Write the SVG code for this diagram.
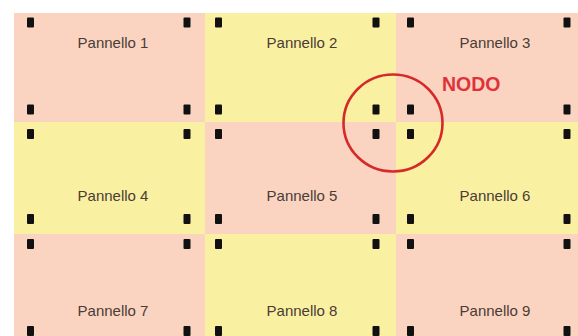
<svg xmlns="http://www.w3.org/2000/svg" width="578" height="336" viewBox="0 0 578 336">
<style>
.s{fill:#fad4c0}
.y{fill:#faf0a2}
.d{fill:#111}
.t{font-family:"Liberation Sans",Arial,sans-serif;font-size:15px;fill:#4a3c36;text-anchor:middle}
.n{font-family:"Liberation Sans",Arial,sans-serif;font-size:19.5px;font-weight:bold;fill:#e0323a}
</style>
<defs>
<rect id="dot" x="-3.5" y="-5" width="7" height="10" rx="1" class="d"/>
</defs>
<rect width="578" height="336" fill="#ffffff"/>
<g id="p1"><rect class="s" x="14" y="13" width="191" height="109"/>
<use href="#dot" x="30.5" y="22.5"/><use href="#dot" x="187" y="22.5"/><use href="#dot" x="30.5" y="109.5"/><use href="#dot" x="187" y="109.5"/>
<text class="t" x="113" y="48">Pannello 1</text></g>
<g id="p2"><rect class="y" x="205" y="13" width="191" height="109"/>
<use href="#dot" x="218.5" y="22.5"/><use href="#dot" x="376" y="22.5"/><use href="#dot" x="218.5" y="109.5"/><use href="#dot" x="376" y="109.5"/>
<text class="t" x="302" y="48">Pannello 2</text></g>
<g id="p3"><rect class="s" x="396" y="13" width="182" height="109"/>
<use href="#dot" x="410.5" y="22.5"/><use href="#dot" x="567" y="22.5"/><use href="#dot" x="410.5" y="109.5"/><use href="#dot" x="567" y="109.5"/>
<text class="t" x="495" y="48">Pannello 3</text></g>
<g id="p4"><rect class="y" x="14" y="122" width="191" height="112"/>
<use href="#dot" x="30.5" y="134"/><use href="#dot" x="187" y="134"/><use href="#dot" x="30.5" y="219"/><use href="#dot" x="187" y="219"/>
<text class="t" x="113" y="201">Pannello 4</text></g>
<g id="p5"><rect class="s" x="205" y="122" width="191" height="112"/>
<use href="#dot" x="218.5" y="134"/><use href="#dot" x="376" y="134"/><use href="#dot" x="218.5" y="219"/><use href="#dot" x="376" y="219"/>
<text class="t" x="302" y="201">Pannello 5</text></g>
<g id="p6"><rect class="y" x="396" y="122" width="182" height="112"/>
<use href="#dot" x="410.5" y="134"/><use href="#dot" x="567" y="134"/><use href="#dot" x="410.5" y="219"/><use href="#dot" x="567" y="219"/>
<text class="t" x="495" y="201">Pannello 6</text></g>
<g id="p7"><rect class="s" x="14" y="234" width="191" height="102"/>
<use href="#dot" x="30.5" y="244"/><use href="#dot" x="187" y="244"/><use href="#dot" x="30.5" y="331"/><use href="#dot" x="187" y="331"/>
<text class="t" x="113" y="316">Pannello 7</text></g>
<g id="p8"><rect class="y" x="205" y="234" width="191" height="102"/>
<use href="#dot" x="218.5" y="244"/><use href="#dot" x="376" y="244"/><use href="#dot" x="218.5" y="331"/><use href="#dot" x="376" y="331"/>
<text class="t" x="302" y="316">Pannello 8</text></g>
<g id="p9"><rect class="s" x="396" y="234" width="182" height="102"/>
<use href="#dot" x="410.5" y="244"/><use href="#dot" x="567" y="244"/><use href="#dot" x="410.5" y="331"/><use href="#dot" x="567" y="331"/>
<text class="t" x="495" y="316">Pannello 9</text></g>
<g id="nodo">
<ellipse cx="393" cy="123" rx="49.5" ry="48.5" fill="none" stroke="#d42a2a" stroke-width="2.6"/>
<text class="n" x="442" y="91">NODO</text>
</g>
</svg>
